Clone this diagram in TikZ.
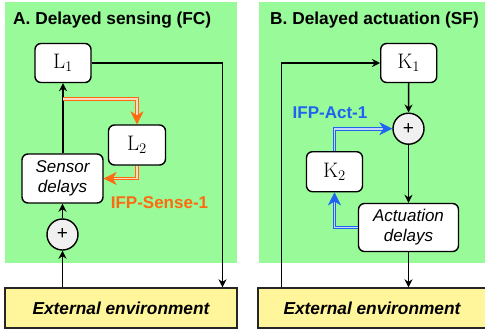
\documentclass[tikz,border=0pt]{standalone}
\usepackage{fix-cm}
\usepackage{fontspec}
\setsansfont{Liberation Sans}
\usetikzlibrary{arrows.meta}
\definecolor{bggreen}{HTML}{98FA98}
\definecolor{envyellow}{HTML}{FFF59A}
\definecolor{ifporange}{HTML}{FF6A10}
\definecolor{ifpblue}{HTML}{1E64F0}
\begin{document}
\begin{tikzpicture}[x=1pt,y=-1pt,
  title/.style={font=\sffamily\bfseries\fontsize{17.3}{20}\selectfont, anchor=base west, inner sep=0},
  blk/.style={draw, line width=1.4pt, rounded corners=6pt, fill=white, inner sep=0,
              font=\fontsize{21}{24}\selectfont},
  delay/.style={blk, align=center, font=\sffamily\itshape\fontsize{17}{20}\selectfont},
  sumnode/.style={circle, draw, line width=1.4pt, fill=gray!12, minimum size=31pt, inner sep=0,
              font=\sffamily\fontsize{19}{20}\selectfont},
  env/.style={draw=black!85, line width=1.4pt, fill=envyellow, inner sep=0,
              minimum width=232pt, minimum height=40pt,
              font=\sffamily\bfseries\itshape\fontsize{17.3}{20}\selectfont},
  sig/.style={line width=1.4pt, -{Stealth[length=8pt,width=8pt]}},
  ifp/.style={double distance=1.8pt, line width=0.9pt},
  ifptip/.style={-{Stealth[length=13pt,width=13pt,inset=4pt]}, line width=0.5pt},
  lab/.style={font=\sffamily\bfseries\fontsize{17}{20}\selectfont, inner sep=0}
]
\useasboundingbox (0,0) rectangle (485,333);
% backgrounds
\fill[bggreen] (5,2) rectangle (237,263);
\fill[bggreen] (259,2) rectangle (485,263);
% titles
\node[title] (ta) at (13,24) {A. Delayed sensing (FC)};
\node[title] (tb) at (270,24) {B. Delayed actuation (SF)};
% environments
\node[env] (extA) at (121,308) {External environment};
\node[env, minimum width=228pt] (extB) at (372,308) {External environment};

% ---------- Panel A ----------
\node[blk, minimum width=56pt, minimum height=39pt] (L1) at (63,63) {$\mathrm{L}_1$};
\node[blk, minimum width=57pt, minimum height=40pt] (L2) at (137,145) {$\mathrm{L}_2$};
\node[delay, minimum width=81pt, minimum height=49pt] (SD) at (62.5,178.5) {Sensor\\delays};
\node[sumnode] (sA) at (62.5,234.5) {+};
\draw[sig] (extA.north -| sA) -- (sA.south);
\draw[sig] (sA.north) -- (SD.south);
\draw[sig] (SD.north -| L1.south) -- (L1.south);
\coordinate (ra) at (222.5,63);
\draw[sig] (L1.east) -- (ra) -- (ra |- extA.north);
\coordinate (oa) at (63,98.7);
\draw[ifp, ifporange, double=ifporange!25] (oa) -| ([yshift=8pt]L2.north);
\draw[ifptip, ifporange] (L2.north) ++(0,-9) -- (L2.north);
\draw[ifp, ifporange, double=ifporange!25] (L2.south) |- ([xshift=8pt]SD.east);
\draw[ifptip, ifporange] (SD.east) ++(9,0) -- (SD.east);
\node[lab, text=ifporange] (lA) at (159.5,203) {IFP-Sense-1};

% ---------- Panel B ----------
\node[blk, minimum width=56pt, minimum height=39pt] (K1) at (408.7,63) {$\mathrm{K}_1$};
\node[sumnode] (sB) at (408.5,128.7) {+};
\node[blk, minimum width=56pt, minimum height=40pt] (K2) at (334.5,171.7) {$\mathrm{K}_2$};
\node[delay, minimum width=100pt, minimum height=48pt] (AD) at (408.5,227.5) {Actuation\\delays};
\coordinate (lb) at (281.7,63);
\draw[sig] (extB.north -| lb) -- (lb) -- (K1.west);
\draw[sig] (K1.south) -- (sB.north);
\draw[sig] (sB.south) -- (AD.north);
\draw[sig] (AD.south) -- (AD.south |- extB.north);
\draw[ifp, ifpblue, double=ifpblue!25] (AD.west) -| ([yshift=-8pt]K2.south);
\draw[ifptip, ifpblue] (K2.south) ++(0,9) -- (K2.south);
\draw[ifp, ifpblue, double=ifpblue!25] (K2.north) |- ([xshift=-8pt]sB.west);
\draw[ifptip, ifpblue] (sB.west) ++(-9,0) -- (sB.west);
\node[lab, text=ifpblue] (lB) at (330,113) {IFP-Act-1};
\end{tikzpicture}
\end{document}
